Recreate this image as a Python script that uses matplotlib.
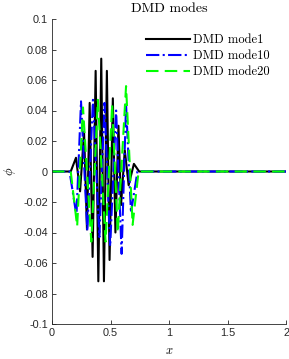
import matplotlib
matplotlib.use("Agg")
import matplotlib.pyplot as plt

# ---- data ----
mode1_x = [0, 0.16, 0.205, 0.24, 0.274, 0.299, 0.322, 0.347, 0.373, 0.396, 0.421,
           0.444, 0.469, 0.492, 0.520, 0.542, 0.568, 0.590, 0.622, 0.655, 0.70, 0.745, 2.0]
mode1_y = [0, 0, 0.009, -0.013, 0.026, -0.038, 0.045, -0.056, 0.066, -0.072, 0.074,
           -0.072, 0.066, -0.058, 0.048, -0.040, 0.030, -0.022, 0.014, -0.009, 0.005, 0, 0]

mode10_x = [0, 0.15, 0.209, 0.248, 0.302, 0.35, 0.405, 0.449, 0.497, 0.548, 0.595,
            0.633, 0.675, 0.73, 2.0]
mode10_y = [0, 0, -0.029, 0.046, -0.039, 0.047, -0.043, 0.045, -0.049, 0.040, -0.054,
            0.044, -0.027, 0, 0]

mode20_x = [0, 0.16, 0.215, 0.265, 0.336, 0.392, 0.458, 0.514, 0.562, 0.633, 0.689,
            0.74, 2.0]
mode20_y = [0, 0, -0.036, 0.042, -0.046, 0.047, -0.046, 0.044, -0.040, 0.056, -0.035,
            0, 0]

labels = ["DMD mode1", "DMD mode10", "DMD mode20"]
xticks = [0, 0.5, 1, 1.5, 2]
xticklabels = ["0", "0.5", "1", "1.5", "2"]
yticks = [-0.1, -0.08, -0.06, -0.04, -0.02, 0, 0.02, 0.04, 0.06, 0.08, 0.1]
yticklabels = ["-0.1", "-0.08", "-0.06", "-0.04", "-0.02", "0", "0.02", "0.04",
               "0.06", "0.08", "0.1"]

plt.rcParams["mathtext.fontset"] = "cm"
serif = "cmr10"
gray = (0.15, 0.15, 0.15)

fig = plt.figure(figsize=(2.89, 3.59), dpi=100)
ax = fig.add_axes([52 / 289, 35 / 359, 234 / 289, 305 / 359])

ax.plot(mode1_x, mode1_y, color="k", lw=1.5, ls="-", label=labels[0])
ax.plot(mode10_x, mode10_y, color=(0, 0, 1), lw=1.5, ls="-.", label=labels[1])
ax.plot(mode20_x, mode20_y, color=(0, 1, 0), lw=1.5, ls=(0, (6, 3)), label=labels[2])

ax.set_xlim(0, 2)
ax.set_ylim(-0.1, 0.1)
ax.set_xticks(xticks)
ax.set_xticklabels(xticklabels)
ax.set_yticks(yticks)
ax.set_yticklabels(yticklabels)
for s in ["top", "right"]:
    ax.spines[s].set_visible(False)
for s in ["left", "bottom"]:
    ax.spines[s].set_color(gray)
    ax.spines[s].set_linewidth(0.6)
ax.tick_params(direction="in", length=3, width=0.6, colors=gray,
               labelsize=7.8, pad=3)
for t in ax.get_xticklabels() + ax.get_yticklabels():
    t.set_fontfamily("Liberation Sans")

ax.set_title("DMD modes", fontfamily=serif, fontsize=10, pad=5)
ax.set_xlabel(r"$x$", fontsize=9, labelpad=4)
ax.set_ylabel(r"$\phi$", fontsize=9, labelpad=4)

leg = ax.legend(loc="upper left", frameon=False, prop={"family": serif, "size": 9},
                handlelength=3.5, handletextpad=0.25, labelspacing=0.3,
                borderpad=0, borderaxespad=0,
                bbox_to_anchor=((146 - 52) / 234, 0.95))

fig.savefig("out.png", dpi=100)
